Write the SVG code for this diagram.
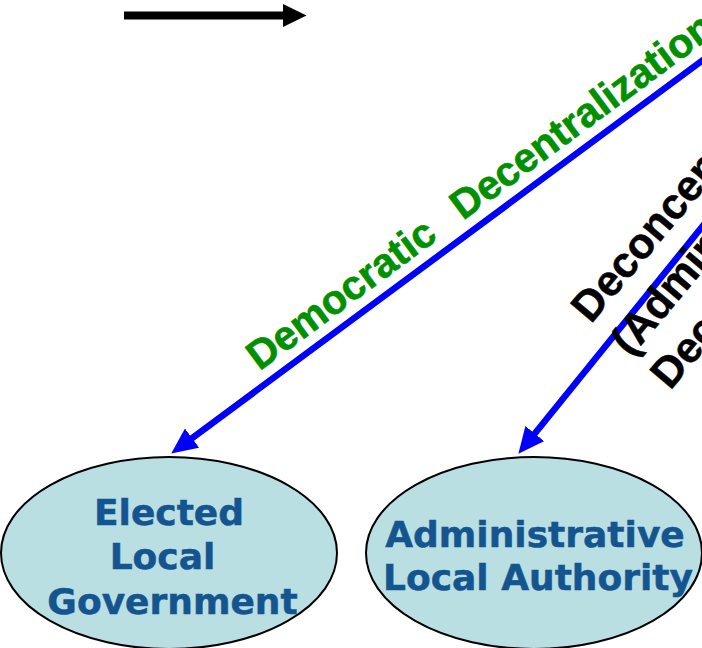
<svg xmlns="http://www.w3.org/2000/svg" width="702" height="648" viewBox="0 0 702 648">
  <style>
    .node ellipse { fill: #b9dfe3; stroke: #000; stroke-width: 2; }
    .nodetext { font-family: "DejaVu Sans", Verdana, sans-serif; font-weight: bold; font-size: 36px; fill: #14558f; stroke: #14558f; stroke-width: 0.5; text-anchor: middle; }
    .conn { stroke: #0000ff; stroke-width: 6.5; fill: none; }
    .green { font-family: "Liberation Sans", Arial, sans-serif; font-weight: bold; font-size: 41px; fill: #009000; stroke: #009000; stroke-width: 0.6; }
    .black { font-family: "Liberation Sans", Arial, sans-serif; font-weight: bold; font-size: 43px; fill: #000; stroke: #000; stroke-width: 0.5; }
  </style>
  <defs>
    <marker id="bluehead" viewBox="0 0 26 24" refX="5" refY="12" markerWidth="26" markerHeight="24" markerUnits="userSpaceOnUse" orient="auto">
      <path d="M0,0 L26,12 L0,24 z" fill="#0000ff"/>
    </marker>
  </defs>
  <rect width="702" height="648" fill="#ffffff"/>

  <g id="legend-arrow">
    <line x1="124" y1="15.5" x2="284" y2="15.5" stroke="#000" stroke-width="8"/>
    <polygon points="283,4 306.5,15.5 283,27" fill="#000"/>
  </g>

  <g id="connectors">
    <line class="conn" x1="730" y1="40" x2="188.1" y2="441.1" marker-end="url(#bluehead)"/>
    <line class="conn" x1="726.6" y1="196.5" x2="531.6" y2="437.5" marker-end="url(#bluehead)"/>
  </g>

  <g id="label-democratic" transform="translate(259.5,371.6) rotate(-36.5)">
    <text class="green" x="0" y="0">Democratic<tspan x="253">Decentralization</tspan></text>
  </g>

  <g id="label-deconcentration" transform="translate(591,324.4) rotate(-50)">
    <text class="black" x="0" y="0">Deconcentration</text>
    <text class="black" x="0" y="51.8">(Administrative</text>
    <text class="black" x="0" y="103.6">Decentralization)</text>
  </g>

  <g id="node-elected" class="node">
    <ellipse cx="169" cy="553" rx="168" ry="96"/>
    <text class="nodetext" x="169" y="524.5">Elected</text>
    <text class="nodetext" x="162.5" y="569">Local</text>
    <text class="nodetext" x="172.5" y="613.5">Government</text>
  </g>

  <g id="node-administrative" class="node">
    <ellipse cx="534" cy="553" rx="168" ry="96"/>
    <text class="nodetext" x="535" y="546.7">Administrative</text>
    <text class="nodetext" x="538" y="590">Local Authority</text>
  </g>
</svg>
